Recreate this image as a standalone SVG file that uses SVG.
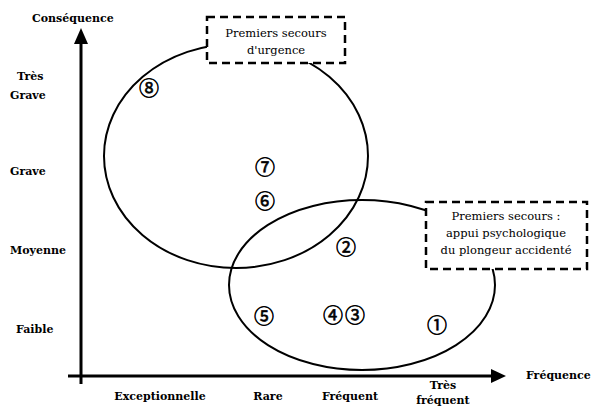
<svg xmlns="http://www.w3.org/2000/svg" width="594" height="408" viewBox="0 0 594 408">
<style>
.lbl{font-family:"DejaVu Serif","Liberation Serif",serif;font-size:11px;font-weight:bold;fill:#000}
.box{fill:#fff;stroke:#000;stroke-width:2.5;stroke-dasharray:8 5}
.bt{font-family:"DejaVu Serif","Liberation Serif",serif;font-size:11.5px;fill:#000;text-anchor:middle}
.num{font-family:"Noto Sans CJK JP","DejaVu Sans",sans-serif;font-size:20px;fill:#000;stroke:#000;stroke-width:0.6;text-anchor:middle}
.ell{fill:none;stroke:#000;stroke-width:2}
.ax{stroke:#000;stroke-width:3;fill:none}
</style>
<rect width="594" height="408" fill="#fff"/>
<g id="axes">
<line class="ax" x1="81" y1="40" x2="81" y2="384"/>
<polygon points="81,28 74,44 88,44" fill="#000"/>
<line class="ax" x1="68" y1="376" x2="494" y2="376"/>
<polygon points="506,376 491,369 491,383" fill="#000"/>
</g>
<g id="labels">
<text class="lbl" x="32" y="22">Conséquence</text>
<text class="lbl" x="17" y="80">Très</text>
<text class="lbl" x="10" y="99">Grave</text>
<text class="lbl" x="10" y="175">Grave</text>
<text class="lbl" x="10" y="254">Moyenne</text>
<text class="lbl" x="16" y="333">Faible</text>
<text class="lbl" x="160" y="400" text-anchor="middle">Exceptionnelle</text>
<text class="lbl" x="268" y="400" text-anchor="middle">Rare</text>
<text class="lbl" x="350" y="400" text-anchor="middle">Fréquent</text>
<text class="lbl" x="443" y="389" text-anchor="middle">Très</text>
<text class="lbl" x="443" y="404" text-anchor="middle">fréquent</text>
<text class="lbl" x="526" y="379">Fréquence</text>
</g>
<g id="connectors">
<ellipse id="zone1" class="ell" cx="236" cy="156" rx="132" ry="112"/>
<ellipse id="zone2" class="ell" cx="362" cy="285" rx="133" ry="85"/>
</g>
<g id="box1">
<rect class="box" x="207" y="17" width="138" height="46"/>
<text class="bt" x="276" y="37">Premiers secours</text>
<text class="bt" x="276" y="54">d'urgence</text>
</g>
<g id="box2">
<rect class="box" x="426" y="202" width="161" height="67"/>
<text class="bt" x="506" y="220">Premiers secours :</text>
<text class="bt" x="506" y="237">appui psychologique</text>
<text class="bt" x="506" y="254">du plongeur accidenté</text>
</g>
<g id="n8"><text class="num" x="149" y="96">⑧</text></g>
<g id="n7"><text class="num" x="265" y="175">⑦</text></g>
<g id="n6"><text class="num" x="265" y="209">⑥</text></g>
<g id="n2"><text class="num" x="346" y="255">②</text></g>
<g id="n5"><text class="num" x="264" y="324">⑤</text></g>
<g id="n4"><text class="num" x="333" y="323">④</text></g>
<g id="n3"><text class="num" x="355" y="323">③</text></g>
<g id="n1"><text class="num" x="437" y="333">①</text></g>
</svg>
